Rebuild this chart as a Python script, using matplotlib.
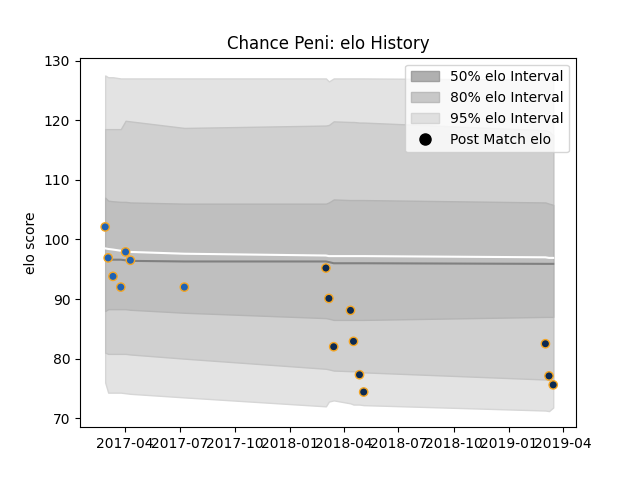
import matplotlib
matplotlib.use("Agg")
import matplotlib.pyplot as plt
import matplotlib.dates as mdates
import numpy as np
import pandas as pd
from matplotlib.patches import Patch
from matplotlib.lines import Line2D

dates = pd.to_datetime(["2017-02-27","2017-03-04","2017-03-12","2017-03-25","2017-04-02","2017-04-10",
    "2017-07-09","2018-03-02","2018-03-07","2018-03-15","2018-04-12","2018-04-17","2018-04-27",
    "2018-05-04","2019-03-03","2019-03-09","2019-03-16"])
elo = [102.1,96.9,93.8,92.0,97.9,96.5,92.0,95.2,90.1,82.0,88.1,82.9,77.3,74.4,82.5,77.1,75.6]
pt_colors = ["#1f62b4"]*7 + ["#0c2a52"]*10

u95 = [127.5,127.2,127.2,127.0,127.0,127.0,127.0,127.0,126.5,127.0,127.0,127.0,127.0,127.0,126.8,126.7,126.6]
l95 = [76.0,74.3,74.3,74.3,74.2,74.1,73.5,72.0,72.8,73.0,72.5,72.3,72.3,72.2,71.3,71.2,71.8]
u80 = [118.5,118.5,118.5,118.5,119.9,119.8,118.7,119.1,119.2,119.8,119.7,119.7,119.6,119.6,118.3,118.1,117.5]
l80 = [81.0,80.8,80.8,80.8,80.8,80.7,80.0,78.3,78.2,78.0,77.9,77.9,77.8,77.7,76.5,76.4,76.3]
u50 = [107.0,106.5,106.4,106.3,106.3,106.2,106.0,106.0,106.2,106.7,106.6,106.6,106.6,106.6,106.2,106.0,105.8]
l50 = [88.0,88.3,88.3,88.3,88.3,88.2,87.7,86.8,86.7,86.5,86.5,86.5,86.5,86.5,87.0,87.0,87.0]
median = [96.8,96.6,96.6,96.6,96.5,96.4,96.3,96.3,96.2,96.0,96.0,96.0,96.0,96.0,95.9,95.9,95.9]
mean = [98.5,98.4,98.3,98.1,98.0,97.9,97.6,97.3,97.2,97.2,97.2,97.2,97.2,97.2,97.0,96.9,96.9]

fig, ax = plt.subplots(figsize=(6.4,4.8), dpi=100)
ax.fill_between(dates, l95, u95, color="#e3e3e3", lw=1, edgecolor="#d6d6d6")
ax.fill_between(dates, l80, u80, color="#d0d0d0", lw=1, edgecolor="#c4c4c4")
ax.fill_between(dates, l50, u50, color="#bfbfbf", lw=1, edgecolor="#b5b5b5")
ax.plot(dates, median, color="#808080", lw=1.5)
ax.plot(dates, mean, color="white", lw=1.5)
ax.scatter(dates, elo, c=pt_colors, edgecolors="#f5a623", s=36, linewidths=1, zorder=5)

ax.set_ylim(68.5, 130.5)
ax.set_yticks([70,80,90,100,110,120,130])
ax.set_xlim(pd.Timestamp("2017-01-16"), pd.Timestamp("2019-04-23"))
ax.xaxis.set_major_locator(mdates.MonthLocator(bymonth=[1,4,7,10]))
ax.xaxis.set_major_formatter(mdates.DateFormatter("%Y-%m"))
ax.set_ylabel("elo score")
ax.set_title("Chance Peni: elo History")
handles = [Patch(facecolor="#b0b0b0", edgecolor="#a0a0a0", label="50% elo Interval"),
           Patch(facecolor="#c8c8c8", edgecolor="#bbbbbb", label="80% elo Interval"),
           Patch(facecolor="#e0e0e0", edgecolor="#d5d5d5", label="95% elo Interval"),
           Line2D([],[],marker="o",ls="",color="black",markersize=8,label="Post Match elo")]
ax.legend(handles=handles, loc="upper right")
fig.savefig("out.png")
